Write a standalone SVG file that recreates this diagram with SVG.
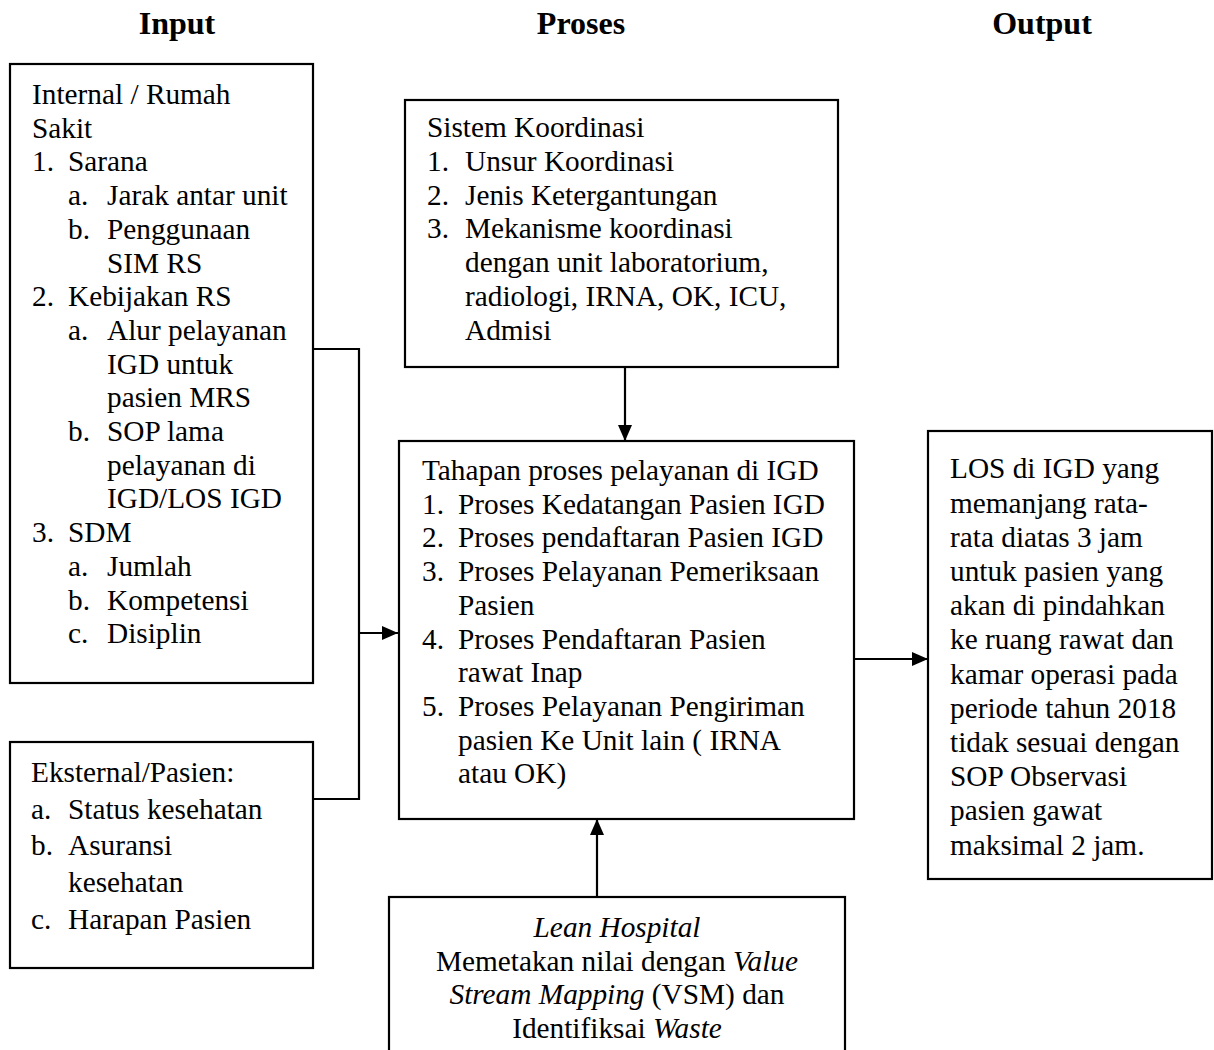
<svg xmlns="http://www.w3.org/2000/svg" width="1214" height="1050" viewBox="0 0 1214 1050">
<style>
text{font-family:"Liberation Serif","Times New Roman",serif;font-size:29.3px;fill:#000}
.h{font-weight:bold;text-anchor:middle;font-size:32px}
.c{text-anchor:middle}
.box{fill:#fff;stroke:#000;stroke-width:2.2}
.ln{fill:none;stroke:#000;stroke-width:2.2}
</style>
<defs>
<marker id="ah" markerWidth="16" markerHeight="14" refX="16" refY="7" orient="auto" markerUnits="userSpaceOnUse">
<path d="M0,0 L16,7 L0,14 Z" fill="#000"/>
</marker>
</defs>
<rect width="1214" height="1050" fill="#fff"/>
<g id="headers">
<text class="h" x="177" y="34">Input</text>
<text class="h" x="581" y="34">Proses</text>
<text class="h" x="1042" y="34">Output</text>
</g>
<g id="connectors">
<polyline class="ln" points="313,349 359,349 359,799 313,799"/>
<line class="ln" x1="359" y1="633" x2="398" y2="633" marker-end="url(#ah)"/>
<line class="ln" x1="625" y1="367" x2="625" y2="441" marker-end="url(#ah)"/>
<line class="ln" x1="597" y1="897" x2="597" y2="819" marker-end="url(#ah)"/>
<line class="ln" x1="854" y1="659" x2="928" y2="659" marker-end="url(#ah)"/>
</g>
<g id="internal">
<rect class="box" x="10" y="64" width="303" height="619"/>
<text x="32" y="104">Internal / Rumah</text>
<text x="32" y="137.7">Sakit</text>
<text x="32" y="171.4">1.</text><text x="68" y="171.4">Sarana</text>
<text x="68" y="205.1">a.</text><text x="107" y="205.1">Jarak antar unit</text>
<text x="68" y="238.8">b.</text><text x="107" y="238.8">Penggunaan</text>
<text x="107" y="272.5">SIM RS</text>
<text x="32" y="306.2">2.</text><text x="68" y="306.2">Kebijakan RS</text>
<text x="68" y="339.9">a.</text><text x="107" y="339.9">Alur pelayanan</text>
<text x="107" y="373.6">IGD untuk</text>
<text x="107" y="407.3">pasien MRS</text>
<text x="68" y="441">b.</text><text x="107" y="441">SOP lama</text>
<text x="107" y="474.7">pelayanan di</text>
<text x="107" y="508.4">IGD/LOS IGD</text>
<text x="32" y="542.1">3.</text><text x="68" y="542.1">SDM</text>
<text x="68" y="575.8">a.</text><text x="107" y="575.8">Jumlah</text>
<text x="68" y="609.5">b.</text><text x="107" y="609.5">Kompetensi</text>
<text x="68" y="643.2">c.</text><text x="107" y="643.2">Disiplin</text>
</g>
<g id="eksternal">
<rect class="box" x="10" y="742" width="303" height="226"/>
<text x="31" y="781.7">Eksternal/Pasien:</text>
<text x="31" y="818.5">a.</text><text x="68" y="818.5">Status kesehatan</text>
<text x="31" y="855.3">b.</text><text x="68" y="855.3">Asuransi</text>
<text x="68" y="892.1">kesehatan</text>
<text x="31" y="928.9">c.</text><text x="68" y="928.9">Harapan Pasien</text>
</g>
<g id="sistem">
<rect class="box" x="405" y="100" width="433" height="267"/>
<text x="427" y="137.3">Sistem Koordinasi</text>
<text x="427" y="171">1.</text><text x="465" y="171">Unsur Koordinasi</text>
<text x="427" y="204.7">2.</text><text x="465" y="204.7">Jenis Ketergantungan</text>
<text x="427" y="238.4">3.</text><text x="465" y="238.4">Mekanisme koordinasi</text>
<text x="465" y="272.1">dengan unit laboratorium,</text>
<text x="465" y="305.8">radiologi, IRNA, OK, ICU,</text>
<text x="465" y="339.5">Admisi</text>
</g>
<g id="tahapan">
<rect class="box" x="399" y="441" width="455" height="378"/>
<text x="422" y="480">Tahapan proses pelayanan di IGD</text>
<text x="422" y="513.7">1.</text><text x="458" y="513.7">Proses Kedatangan Pasien IGD</text>
<text x="422" y="547.4">2.</text><text x="458" y="547.4">Proses pendaftaran Pasien IGD</text>
<text x="422" y="581.1">3.</text><text x="458" y="581.1">Proses Pelayanan Pemeriksaan</text>
<text x="458" y="614.8">Pasien</text>
<text x="422" y="648.5">4.</text><text x="458" y="648.5">Proses Pendaftaran Pasien</text>
<text x="458" y="682.2">rawat Inap</text>
<text x="422" y="715.9">5.</text><text x="458" y="715.9">Proses Pelayanan Pengiriman</text>
<text x="458" y="749.6">pasien Ke Unit lain ( IRNA</text>
<text x="458" y="783.3">atau OK)</text>
</g>
<g id="lean">
<rect class="box" x="389" y="897" width="456" height="170"/>
<text class="c" x="617" y="937"><tspan font-style="italic">Lean Hospital</tspan></text>
<text class="c" x="617" y="970.7">Memetakan nilai dengan <tspan font-style="italic">Value</tspan></text>
<text class="c" x="617" y="1004.4"><tspan font-style="italic">Stream Mapping</tspan> (VSM) dan</text>
<text class="c" x="617" y="1038.1">Identifiksai <tspan font-style="italic">Waste</tspan></text>
</g>
<g id="output">
<rect class="box" x="928" y="431" width="284" height="448"/>
<text x="950" y="478.3">LOS di IGD yang</text>
<text x="950" y="512.5">memanjang rata-</text>
<text x="950" y="546.7">rata diatas 3 jam</text>
<text x="950" y="580.9">untuk pasien yang</text>
<text x="950" y="615.1">akan di pindahkan</text>
<text x="950" y="649.3">ke ruang rawat dan</text>
<text x="950" y="683.5">kamar operasi pada</text>
<text x="950" y="717.7">periode tahun 2018</text>
<text x="950" y="751.9">tidak sesuai dengan</text>
<text x="950" y="786.1">SOP Observasi</text>
<text x="950" y="820.3">pasien gawat</text>
<text x="950" y="854.5">maksimal 2 jam.</text>
</g>
</svg>
